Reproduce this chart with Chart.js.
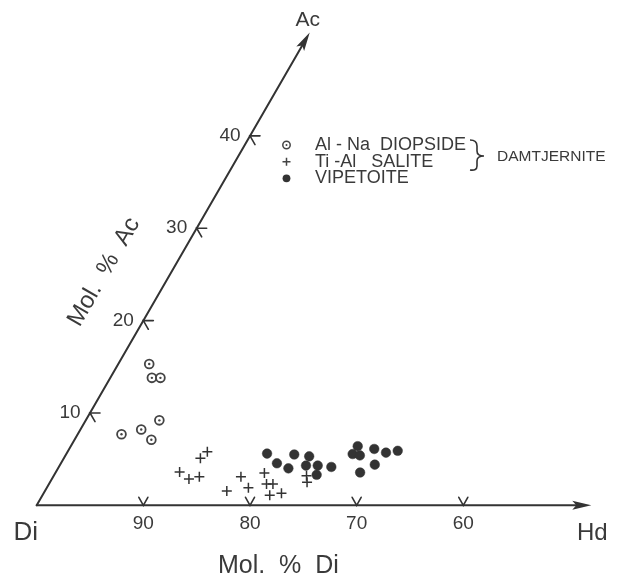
<!DOCTYPE html>
<html>
<head>
<meta charset="utf-8">
<script src="https://cdn.jsdelivr.net/npm/chart.js@4.4.1/dist/chart.umd.min.js"></script>
<style>
html,body{margin:0;padding:0;background:#fff;}
#wrap{width:629px;height:577px;position:relative;}
</style>
</head>
<body>
<div id="wrap"><canvas id="c" width="629" height="577"></canvas></div>
<script>
// ---- data (ternary Di-Hd-Ac, mol. %) ----
const categories = ['Al - Na  DIOPSIDE', 'Ti -Al   SALITE', 'VIPETOITE'];
const groupLabel = 'DAMTJERNITE';

const diopsideDi = [81.8, 82.3, 81.5, 83.9, 86.1, 88.2, 85.7];
const diopsideAc = [15.3, 13.8, 13.8, 9.2, 8.2, 7.7, 7.1];

const saliteDi = [81.1, 82.1, 84.8, 84.3, 83.2, 79.3, 81.4, 79.2, 76.9, 77.3, 76.7, 77.6, 76.4, 73.1, 73.4];
const saliteAc = [5.8, 5.1, 3.6, 2.85, 3.1, 3.1, 1.55, 1.9, 3.5, 2.3, 2.3, 1.1, 1.3, 3.2, 2.5];

const vipetoiteDi = [75.6, 75.2, 74.4, 73.1, 71.8, 72.6, 71.5, 72.1, 70.3, 67.6, 66.7, 67.0, 65.3, 64.4, 63.2, 66.1, 67.9];
const vipetoiteAc = [5.6, 4.55, 4.0, 5.5, 5.3, 4.3, 4.3, 3.3, 4.15, 5.55, 6.4, 5.4, 6.1, 5.7, 5.9, 4.4, 3.55];

const diTicks = [90, 80, 70, 60];      // Mol. % Di along base
const acTicks = [10, 20, 30, 40];      // Mol. % Ac along left edge
const hdAxisEnd = 52;                  // extent of Hd axis arrow (mol. %)
const acAxisEnd = 51.2;                // extent of Ac axis arrow (mol. %)

// ---- helpers ----
const SQ3 = Math.sqrt(3);
function tern(di, ac) { return { x: 100 - di - ac / 2, y: ac * SQ3 / 2 }; }
function pts(di, ac) { return di.map((d, i) => tern(d, ac[i])); }

const INK = '#333333';
const TXT = '#3a3a3a';
const FONT = '"Liberation Sans", Arial, Helvetica, sans-serif';

const axesPlugin = {
  id: 'ternaryAxes',
  beforeDatasetsDraw(chart) {
    const ctx = chart.ctx, xs = chart.scales.x, ys = chart.scales.y;
    const P = (di, ac) => { const t = tern(di, ac); return [xs.getPixelForValue(t.x), ys.getPixelForValue(t.y)]; };
    ctx.save();
    ctx.strokeStyle = INK; ctx.fillStyle = INK; ctx.lineWidth = 2; ctx.lineCap = 'round';

    function arrow(from, to) {
      const dx = to[0] - from[0], dy = to[1] - from[1], L = Math.hypot(dx, dy);
      const ux = dx / L, uy = dy / L, hl = 19, hw = 4.5;
      const bx = to[0] - ux * hl, by = to[1] - uy * hl;
      ctx.beginPath(); ctx.moveTo(from[0], from[1]); ctx.lineTo(bx + ux * 4, by + uy * 4); ctx.stroke();
      ctx.beginPath();
      ctx.moveTo(to[0], to[1]);
      ctx.lineTo(bx - uy * hw, by + ux * hw);
      ctx.lineTo(bx + ux * 4, by + uy * 4);
      ctx.lineTo(bx + uy * hw, by - ux * hw);
      ctx.closePath(); ctx.fill();
    }
    const O = P(100, 0);
    arrow(O, P(100 - hdAxisEnd, 0));
    arrow(O, P(100 - acAxisEnd, acAxisEnd));

    // base ticks (V) and labels
    ctx.lineWidth = 1.6;
    ctx.fillStyle = TXT;
    ctx.font = '19px ' + FONT; ctx.textAlign = 'center'; ctx.textBaseline = 'middle';
    diTicks.forEach(d => {
      const [px, py] = P(d, 0);
      ctx.beginPath();
      ctx.moveTo(px - 4.5, py - 8); ctx.lineTo(px, py); ctx.lineTo(px + 4.5, py - 8);
      ctx.stroke();
      ctx.fillText(String(d), px, py + 18);
    });
    // Ac ticks (<) and labels
    acTicks.forEach(a => {
      const [px, py] = P(100 - a, a);
      ctx.beginPath();
      ctx.moveTo(px + 10, py); ctx.lineTo(px, py); ctx.lineTo(px + 5, py + 8.7);
      ctx.stroke();
      ctx.fillText(String(a), px - 20, py);
    });

    // vertex labels
    ctx.font = '26px ' + FONT;
    ctx.fillText('Di', O[0] - 11, O[1] + 28);
    const H = P(100 - hdAxisEnd, 0);
    ctx.font = '24px ' + FONT;
    ctx.fillText('Hd', H[0] + 1, H[1] + 28);
    const A = P(100 - acAxisEnd, acAxisEnd);
    ctx.font = '21px ' + FONT;
    ctx.fillText('Ac', A[0] - 2, A[1] - 12);

    // axis titles
    ctx.font = '25px ' + FONT;
    ctx.textAlign = 'left'; ctx.textBaseline = 'alphabetic';
    ctx.fillText('Mol.  %  Di', 218, 573);
    ctx.save();
    ctx.translate(104, 272);
    ctx.rotate(-Math.PI / 3);
    ctx.textAlign = 'center'; ctx.textBaseline = 'middle';
    ctx.font = '24px ' + FONT;
    ctx.fillText('Mol.  %  Ac', 0, 0);
    ctx.restore();
    ctx.restore();
  },
  afterDraw(chart) {
    const ctx = chart.ctx;
    ctx.save();
    const mx = 286.5, ys = [145, 161.7, 178.3], tx = 315;
    // markers
    ctx.strokeStyle = '#444'; ctx.fillStyle = '#444'; ctx.lineWidth = 1.5;
    ctx.beginPath(); ctx.arc(mx, ys[0], 3.7, 0, Math.PI * 2); ctx.stroke();
    ctx.beginPath(); ctx.arc(mx, ys[0], 1, 0, Math.PI * 2); ctx.fill();
    ctx.beginPath(); ctx.moveTo(mx - 4, ys[1]); ctx.lineTo(mx + 4, ys[1]);
    ctx.moveTo(mx, ys[1] - 4); ctx.lineTo(mx, ys[1] + 4); ctx.stroke();
    ctx.fillStyle = '#333';
    ctx.beginPath(); ctx.arc(mx, ys[2], 3.9, 0, Math.PI * 2); ctx.fill();
    // texts
    ctx.fillStyle = TXT;
    ctx.font = '18px ' + FONT; ctx.textAlign = 'left'; ctx.textBaseline = 'middle';
    categories.forEach((c, i) => ctx.fillText(c, tx, ys[i]));
    // brace
    ctx.strokeStyle = INK; ctx.lineWidth = 1.6;
    ctx.beginPath();
    ctx.moveTo(470, 140);
    ctx.quadraticCurveTo(477, 140, 477, 146);
    ctx.lineTo(477, 151);
    ctx.quadraticCurveTo(477, 156, 484, 156);
    ctx.quadraticCurveTo(477, 156, 477, 161);
    ctx.lineTo(477, 166);
    ctx.quadraticCurveTo(477, 171, 470, 170);
    ctx.stroke();
    ctx.font = '15.5px ' + FONT;
    ctx.fillText(groupLabel, 497, 157);
    ctx.restore();
  }
};

const UNIT = 10.665, OX = 36.7, OY = 505.3, W = 629, HGT = 577;

new Chart(document.getElementById('c'), {
  type: 'scatter',
  data: {
    datasets: [
      { label: categories[0] + ' (centre)', data: pts(diopsideDi, diopsideAc), pointStyle: 'circle', pointRadius: 1.2,
        backgroundColor: '#444', borderColor: '#444', borderWidth: 0, order: 0 },
      { label: categories[0], data: pts(diopsideDi, diopsideAc), pointStyle: 'circle', pointRadius: 4.4,
        backgroundColor: '#fff', borderColor: '#444', borderWidth: 1.8, order: 1 },
      { label: categories[1], data: pts(saliteDi, saliteAc), pointStyle: 'cross', pointRadius: 5,
        borderColor: '#333', borderWidth: 1.5, order: 2 },
      { label: categories[2], data: pts(vipetoiteDi, vipetoiteAc), pointStyle: 'circle', pointRadius: 4.8,
        backgroundColor: '#333', borderColor: '#333', borderWidth: 0.5, order: 3 }
    ]
  },
  options: {
    responsive: false,
    animation: false,
    layout: { padding: 0, autoPadding: false },
    plugins: { legend: { display: false }, tooltip: { enabled: false } },
    scales: {
      x: { type: 'linear', display: false, min: -OX / UNIT, max: (W - OX) / UNIT },
      y: { type: 'linear', display: false, min: -(HGT - OY) / UNIT, max: OY / UNIT }
    }
  },
  plugins: [axesPlugin]
});
</script>
</body>
</html>
